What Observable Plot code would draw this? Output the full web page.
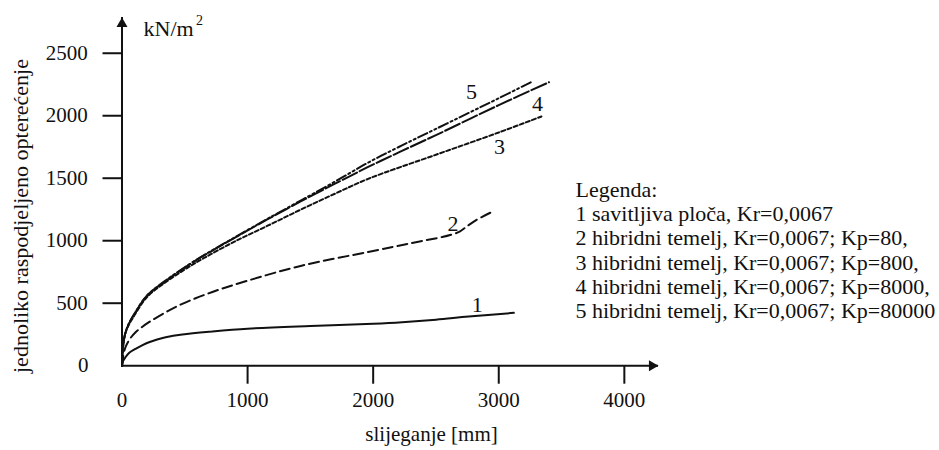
<!DOCTYPE html>
<html>
<head>
<meta charset="utf-8">
<script src="https://cdn.jsdelivr.net/npm/d3@7"></script>
<script src="https://cdn.jsdelivr.net/npm/@observablehq/plot@0.6"></script>
<style>
  html, body { margin: 0; padding: 0; background: #ffffff; }
  #chart { width: 939px; height: 450px; }
  #chart svg, #chart svg text { font-family: "Liberation Serif", "Times New Roman", serif !important; }
</style>
</head>
<body>
<div id="chart"></div>
<script>
// ---- data ----
const xTicks = [1000, 2000, 3000, 4000];
const yTicks = [500, 1000, 1500, 2000, 2500];

const curve1 = [[0,0],[10,40],[28,68],[60,105],[108,135],[160,163],[215,188],[280,210],[348,228],[480,250],[720,274],[1000,296],[1500,318],[2000,336],[2230,348],[2500,368],[2760,393],[3120,423]];
const curve2 = [[0,0],[10,80],[28,148],[60,210],[108,268],[160,310],[215,348],[348,428],[480,495],[720,590],[1000,680],[1430,800],[1960,910],[2300,980],[2550,1030],[2620,1048],[2680,1068],[2740,1110],[2820,1165],[2935,1225]];
const curve3 = [[0,0],[10,165],[25,250],[50,318],[100,405],[200,550],[350,670],[500,770],[650,860],[900,995],[1160,1120],[1430,1252],[1700,1378],[1960,1495],[2500,1688],[3000,1866],[3340,1994]];
const curve4 = [[0,0],[10,170],[25,255],[50,325],[100,415],[200,560],[350,680],[500,785],[650,880],[900,1025],[1160,1172],[1430,1318],[1700,1458],[1960,1590],[2200,1705],[2500,1845],[3000,2085],[3400,2268]];
const curve5 = [[0,0],[10,172],[25,258],[50,328],[100,418],[200,563],[350,683],[500,788],[650,883],[900,1028],[1160,1176],[1430,1325],[1700,1475],[1960,1625],[2200,1748],[2500,1895],[3000,2140],[3255,2268]];

const curveIds = ["1", "2", "3", "4", "5"];
const labelX = [2828, 2636, 3006, 3308, 2782];
const labelY = [490, 1135, 1748, 2095, 2188];

const legendLines = [
  "Legenda:",
  "1 savitljiva ploča, Kr=0,0067",
  "2 hibridni temelj, Kr=0,0067; Kp=80,",
  "3 hibridni temelj, Kr=0,0067; Kp=800,",
  "4 hibridni temelj, Kr=0,0067; Kp=8000,",
  "5 hibridni temelj, Kr=0,0067; Kp=80000"
];
const yLabel = "jednoliko raspodjeljeno opterećenje";
const xLabel = "slijeganje [mm]";
const unitLabel = "kN/m";
const unitSup = "2";

// ---- styles ----
const serif = "Liberation Serif";
const dashes = {"1": undefined, "2": "10,5", "3": "4,2.5", "4": "16,3", "5": "10,3,2,3,2,3"};
const curves = [curve1, curve2, curve3, curve4, curve5];
const ink = "#111";
const fmt = d => String(d);

const lineMarks = curves.map((c, i) => Plot.line(c, {
  x: d => d[0], y: d => d[1],
  stroke: ink, strokeWidth: 2,
  strokeDasharray: dashes[curveIds[i]],
  curve: "catmull-rom"
}));

const labels = curveIds.map((id, i) => ({id, x: labelX[i], y: labelY[i]}));

const chart = Plot.plot({
  width: 939,
  height: 450,
  marginLeft: 121.5,
  marginRight: 281,
  marginTop: 17,
  marginBottom: 84.8,
  x: {domain: [0, 4272], label: null},
  y: {domain: [0, 2786], label: null},
  style: {
    fontFamily: "'Liberation Serif', 'Times New Roman', serif",
    fontSize: "21px",
    color: ink,
    background: "#ffffff",
    overflow: "visible"
  },
  marks: [
    // axes lines and arrowheads
    Plot.ruleX([0], {stroke: ink, strokeWidth: 2}),
    Plot.ruleY([0], {stroke: ink, strokeWidth: 2}),
    Plot.dot([0], {x: d => d, frameAnchor: "top", symbol: "triangle", r: 4.1, fill: ink, stroke: "none", dy: 6.4}),
    Plot.dot([0], {y: d => d, frameAnchor: "right", symbol: "triangle", rotate: 90, r: 4.1, fill: ink, stroke: "none", dx: -6.4}),
    // ticks
    Plot.axisY(yTicks, {tickSize: 19, tickPadding: 15.2, stroke: ink, strokeWidth: 2, label: null, tickFormat: fmt, fontFamily: serif, fontSize: 21}),
    Plot.axisY([0], {tickSize: 0, tickPadding: 33.5, label: null, tickFormat: fmt, fontFamily: serif, fontSize: 21}),
    Plot.axisX(xTicks, {tickSize: 18.5, tickPadding: 7.9, stroke: ink, strokeWidth: 2, label: null, tickFormat: fmt, fontFamily: serif, fontSize: 21}),
    Plot.axisX([0], {tickSize: 0, tickPadding: 26.4, label: null, tickFormat: fmt, fontFamily: serif, fontSize: 21}),
    // curves
    ...lineMarks,
    // curve numbers
    Plot.text(labels, {x: "x", y: "y", text: "id", fontSize: 22, fill: ink, fontFamily: serif}),
    // axis titles
    Plot.text([yLabel], {frameAnchor: "left", textAnchor: "middle", lineAnchor: "middle", rotate: -90, dx: -101.5, dy: 24.4, fontSize: 22, fill: ink, fontFamily: serif}),
    Plot.text([xLabel], {frameAnchor: "bottom", textAnchor: "middle", lineAnchor: "middle", dx: 41.3, dy: 68.1, fontSize: 21, fill: ink, fontFamily: serif}),
    Plot.text([unitLabel], {frameAnchor: "top-left", textAnchor: "start", lineAnchor: "middle", dx: 21.5, dy: 11, fontSize: 22, fill: ink, fontFamily: serif}),
    Plot.text([unitSup], {frameAnchor: "top-left", textAnchor: "start", lineAnchor: "middle", dx: 74, dy: 3.5, fontSize: 14, fill: ink, fontFamily: serif}),
    // legend
    Plot.text([legendLines.join("\n")], {frameAnchor: "top-left", textAnchor: "start", lineAnchor: "top", lineHeight: 1.1, dx: 453.5, dy: 162.4, fontSize: 22, fill: ink, fontFamily: serif})
  ]
});

document.getElementById("chart").appendChild(chart);
</script>
</body>
</html>
